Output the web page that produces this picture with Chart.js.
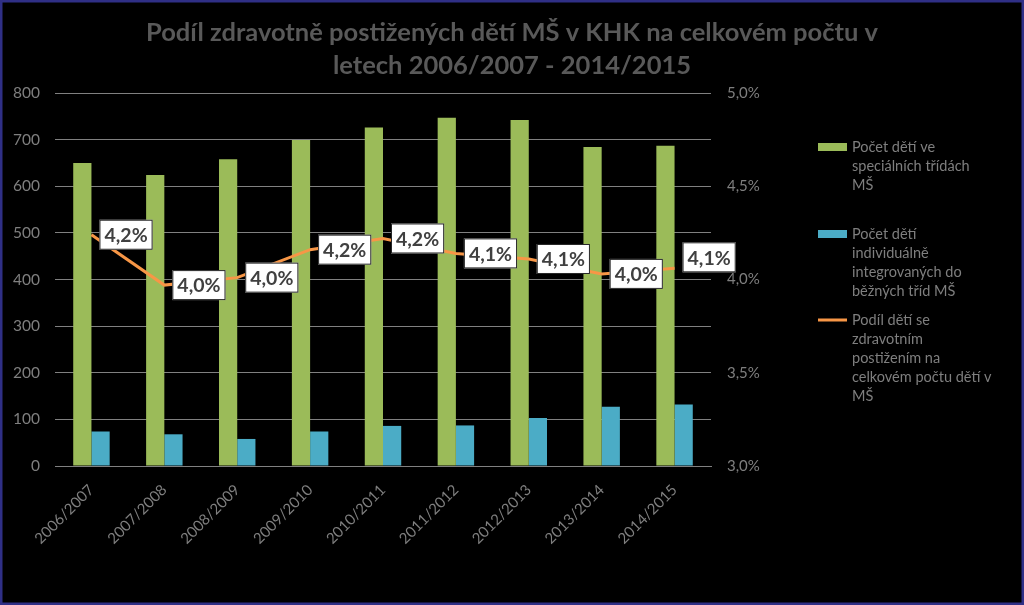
<!DOCTYPE html>
<html>
<head>
<meta charset="utf-8">
<script src="https://cdn.jsdelivr.net/npm/chart.js@4"></script>
<style>
html,body{margin:0;padding:0;background:#000;}
canvas{display:block;}
</style>
</head>
<body>
<canvas id="c" width="1024" height="605"></canvas>
<script>
const categories = ["2006/2007","2007/2008","2008/2009","2009/2010","2010/2011","2011/2012","2012/2013","2013/2014","2014/2015"];
const specialClasses = [650,624,658,699,726,747,742,684,687];
const integrated = [74,68,58,74,86,87,103,127,132];
const sharePct = [4.24,3.97,4.01,4.16,4.22,4.14,4.11,4.03,4.06];
const titleLines = ["Podíl zdravotně postižených dětí MŠ v KHK na celkovém počtu v","letech 2006/2007 - 2014/2015"];
const legendGreen = ["Počet dětí ve","speciálních třídách","MŠ"];
const legendBlue = ["Počet dětí","individuálně","integrovaných do","běžných tříd MŠ"];
const legendOrange = ["Podíl dětí se","zdravotním","postižením na","celkovém počtu dětí v","MŠ"];

const FONT = "Lato, 'Open Sans', sans-serif";
const GREY = '#7f7f7f';

const fmtPct = v => v.toFixed(1).replace('.', ',') + '%';

const decor = {
  id: 'decor',
  beforeDraw(chart) {
    const ctx = chart.ctx;
    ctx.save();
    ctx.fillStyle = '#000';
    ctx.fillRect(0, 0, chart.width, chart.height);
    // title
    ctx.fillStyle = '#595959';
    ctx.font = 'bold 25.5px ' + FONT;
    ctx.textAlign = 'center';
    ctx.textBaseline = 'middle';
    ctx.fillText(titleLines[0], 512, 33);
    ctx.fillText(titleLines[1], 512, 66);
    // legend
    const items = [
      {type: 'box', color: '#9BBB59', y: 147, lines: legendGreen},
      {type: 'box', color: '#4BACC6', y: 234, lines: legendBlue},
      {type: 'line', color: '#F79646', y: 320, lines: legendOrange}
    ];
    ctx.font = '14.5px ' + FONT;
    ctx.textAlign = 'left';
    items.forEach(it => {
      ctx.fillStyle = it.color;
      if (it.type === 'box') ctx.fillRect(818, it.y - 4, 29, 8);
      else ctx.fillRect(818, it.y - 1.5, 29, 3);
      ctx.fillStyle = GREY;
      it.lines.forEach((t, i) => ctx.fillText(t, 852, it.y + i * 19));
    });
    ctx.restore();
  },
  afterDatasetsDraw(chart) {
    const ctx = chart.ctx;
    const meta = chart.getDatasetMeta(0);
    const n = meta.data.length;
    ctx.save();
    ctx.font = 'bold 19.5px ' + FONT;
    ctx.textBaseline = 'middle';
    ctx.textAlign = 'left';
    meta.data.forEach((pt, i) => {
      const txt = fmtPct(sharePct[i]);
      const w = ctx.measureText(txt).width + 10;
      const h = 30;
      const cy = pt.y + (i === n - 1 ? -11 : 0);
      const x = pt.x + 8, y = cy - h / 2;
      ctx.fillStyle = '#fff';
      ctx.fillRect(x, y, w, h);
      ctx.strokeStyle = '#262626';
      ctx.lineWidth = 1;
      ctx.strokeRect(x + 0.5, y + 0.5, w - 1, h - 1);
      ctx.fillStyle = '#404040';
      ctx.fillText(txt, x + 5, cy + 1);
    });
    ctx.restore();
  },
  afterDraw(chart) {
    const ctx = chart.ctx;
    ctx.save();
    ctx.strokeStyle = '#2f2f86';
    ctx.lineWidth = 2.5;
    ctx.strokeRect(1.25, 1.25, chart.width - 2.5, chart.height - 2.5);
    ctx.restore();
  }
};

new Chart(document.getElementById('c'), {
  type: 'bar',
  data: {
    labels: categories,
    datasets: [
      {
        type: 'line',
        label: legendOrange.join(' '),
        data: sharePct,
        yAxisID: 'y1',
        borderColor: '#F79646',
        borderWidth: 3,
        pointRadius: 0,
        tension: 0,
        order: 0
      },
      {
        label: legendGreen.join(' '),
        data: specialClasses,
        backgroundColor: '#9BBB59',
        yAxisID: 'y',
        order: 1,
        categoryPercentage: 0.5,
        barPercentage: 1
      },
      {
        label: legendBlue.join(' '),
        data: integrated,
        backgroundColor: '#4BACC6',
        yAxisID: 'y',
        order: 1,
        categoryPercentage: 0.5,
        barPercentage: 1
      }
    ]
  },
  options: {
    responsive: false,
    animation: false,
    layout: {padding: {top: 93, left: 0, right: 0, bottom: 0}},
    plugins: {legend: {display: false}, title: {display: false}, tooltip: {enabled: false}},
    scales: {
      x: {
        grid: {display: false},
        border: {display: true, color: '#808080', width: 1},
        ticks: {color: GREY, font: {family: FONT, size: 15}, maxRotation: 45, minRotation: 45, autoSkip: false, padding: 7},
        afterFit(s) { s.height = 139; }
      },
      y: {
        position: 'left',
        min: 0, max: 800,
        ticks: {stepSize: 100, color: GREY, font: {family: FONT, size: 15.5}, padding: 15},
        grid: {color: '#808080', lineWidth: 1, drawTicks: false},
        border: {display: false},
        afterFit(s) { s.width = 55; }
      },
      y1: {
        position: 'right',
        min: 3, max: 5,
        ticks: {stepSize: 0.5, color: GREY, font: {family: FONT, size: 15}, padding: 16, callback: v => fmtPct(v)},
        grid: {display: false, drawTicks: false},
        border: {display: false},
        afterFit(s) { s.width = 313; }
      }
    }
  },
  plugins: [decor]
});
</script>
</body>
</html>
